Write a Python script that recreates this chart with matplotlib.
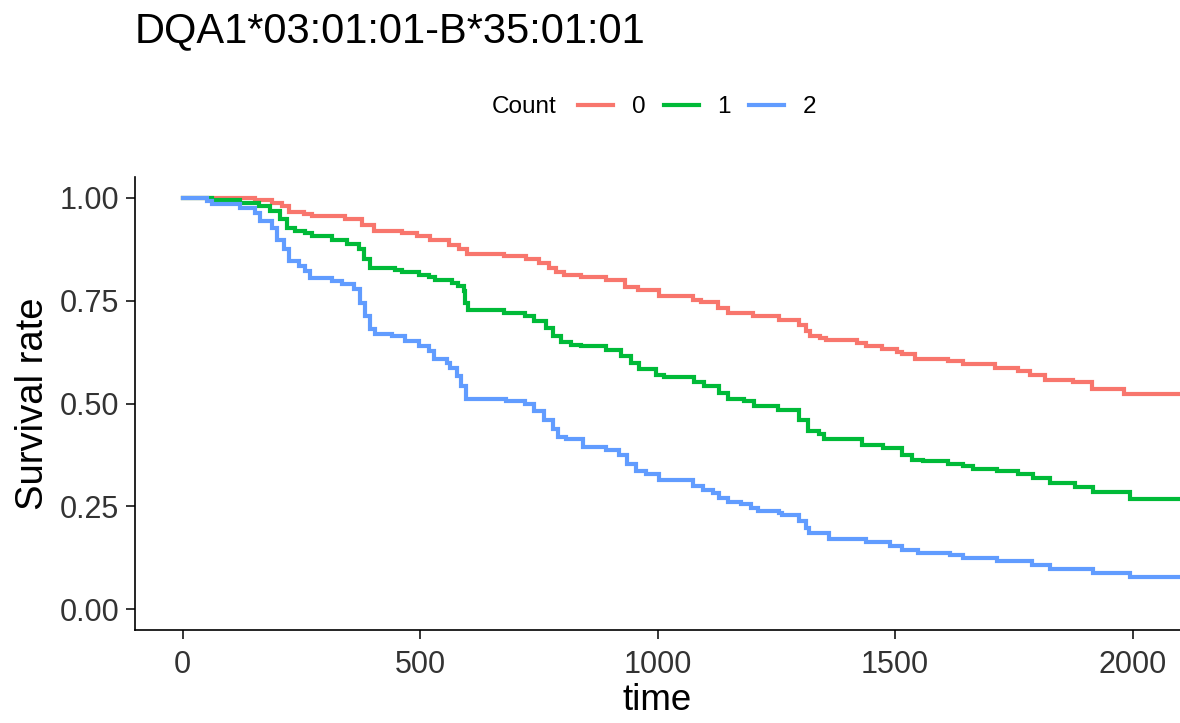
import matplotlib.pyplot as plt
from matplotlib.lines import Line2D

plt.rcParams['font.family'] = ['Liberation Sans', 'DejaVu Sans']

title = "DQA1*03:01:01-B*35:01:01"
groups = ["0", "1", "2"]
colors = ["#F8766D", "#00BA38", "#619CFF"]

# Kaplan-Meier step points (time, survival)
t0 = [0, 153, 189, 210, 225, 256, 273, 342, 378, 403, 462, 493, 520, 562, 583, 598,
      676, 724, 751, 772, 787, 804, 839, 892, 932, 959, 1003, 1074, 1091, 1127, 1148,
      1200, 1255, 1297, 1312, 1322, 1343, 1354, 1421, 1438, 1473, 1505, 1515, 1542,
      1612, 1643, 1710, 1759, 1784, 1815, 1874, 1914, 1983, 2150]
s0 = [1.0, 0.995, 0.987, 0.979, 0.964, 0.96, 0.955, 0.948, 0.934, 0.918, 0.913, 0.906,
      0.896, 0.886, 0.874, 0.862, 0.858, 0.85, 0.842, 0.83, 0.819, 0.813, 0.807, 0.801,
      0.783, 0.775, 0.76, 0.752, 0.746, 0.732, 0.72, 0.712, 0.702, 0.69, 0.676, 0.663,
      0.658, 0.653, 0.646, 0.639, 0.633, 0.626, 0.619, 0.609, 0.603, 0.595, 0.585,
      0.578, 0.568, 0.558, 0.551, 0.536, 0.522, 0.522]

t1 = [0, 63, 122, 162, 185, 206, 220, 237, 258, 273, 315, 346, 371, 382, 395, 447, 462,
      497, 518, 531, 567, 581, 592, 594, 602, 676, 720, 741, 766, 781, 797, 818, 839,
      892, 923, 944, 961, 997, 1014, 1077, 1098, 1129, 1148, 1182, 1203, 1253, 1297,
      1316, 1339, 1350, 1431, 1475, 1515, 1536, 1559, 1612, 1643, 1664, 1715, 1759,
      1790, 1826, 1878, 1916, 1994, 2150]
s1 = [1.0, 0.993, 0.987, 0.979, 0.967, 0.947, 0.926, 0.92, 0.914, 0.906, 0.896, 0.888,
      0.874, 0.85, 0.829, 0.825, 0.82, 0.813, 0.807, 0.801, 0.793, 0.785, 0.773, 0.744,
      0.728, 0.72, 0.712, 0.70, 0.684, 0.663, 0.649, 0.643, 0.639, 0.631, 0.615, 0.599,
      0.584, 0.57, 0.565, 0.552, 0.542, 0.526, 0.511, 0.506, 0.493, 0.484, 0.461, 0.433,
      0.425, 0.415, 0.40, 0.393, 0.376, 0.364, 0.36, 0.354, 0.348, 0.342, 0.336, 0.33,
      0.32, 0.307, 0.298, 0.284, 0.269, 0.269]

t2 = [0, 21, 52, 63, 120, 153, 164, 189, 199, 214, 225, 246, 258, 269, 315, 336, 361,
      374, 384, 395, 405, 441, 468, 497, 518, 529, 556, 563, 577, 586, 596, 682, 720,
      741, 762, 781, 791, 808, 844, 892, 919, 935, 955, 976, 1003, 1074, 1095, 1116,
      1129, 1148, 1175, 1196, 1211, 1255, 1263, 1297, 1312, 1318, 1360, 1438, 1490,
      1515, 1549, 1616, 1643, 1715, 1788, 1826, 1916, 1994, 2150]
s2 = [1.0, 0.998, 0.991, 0.985, 0.975, 0.963, 0.943, 0.926, 0.898, 0.874, 0.845, 0.833,
      0.821, 0.805, 0.797, 0.789, 0.777, 0.744, 0.712, 0.68, 0.669, 0.663, 0.651, 0.639,
      0.627, 0.607, 0.599, 0.587, 0.567, 0.542, 0.511, 0.507, 0.498, 0.481, 0.461,
      0.437, 0.419, 0.413, 0.395, 0.388, 0.376, 0.352, 0.336, 0.33, 0.314, 0.299,
      0.289, 0.283, 0.271, 0.26, 0.255, 0.247, 0.24, 0.235, 0.229, 0.214, 0.198, 0.186,
      0.172, 0.163, 0.154, 0.144, 0.136, 0.131, 0.125, 0.117, 0.108, 0.099, 0.089,
      0.079, 0.079]

x_ticks = [0, 500, 1000, 1500, 2000]
y_ticks = [0.0, 0.25, 0.5, 0.75, 1.0]

fig = plt.figure(figsize=(11.8, 7.23), dpi=100)
ax = fig.add_axes([135/1180, 1 - 630/723, 1 - 135/1180, (630 - 177)/723])

for t, s, c in zip([t0, t1, t2], [s0, s1, s2], colors):
    ax.step(t, s, where='post', color=c, lw=3.0, solid_joinstyle='miter')

ax.set_xlim(-100, 2100)
ax.set_ylim(-0.05, 1.05)
ax.set_xticks(x_ticks)
ax.set_yticks(y_ticks)
ax.set_yticklabels(["%.2f" % v for v in y_ticks])
ax.tick_params(labelsize=22, labelcolor='#333333', length=6.5, width=1.1)
ax.tick_params(axis='x', pad=8)
ax.tick_params(axis='y', pad=5)
for side in ['top', 'right']:
    ax.spines[side].set_visible(False)
for side in ['left', 'bottom']:
    ax.spines[side].set_linewidth(1.2)

ax.set_xlabel("time", fontsize=26.5, labelpad=2)
ax.set_ylabel("Survival rate", fontsize=27.5, labelpad=6)

fig.text(135/1180, 1 - 31/723, title, fontsize=30, ha='left', va='center')

fig.text(492/1180, 1 - 107/723, "Count", fontsize=17.5, ha='left', va='center')
handles = [Line2D([], [], color=c, lw=3.0) for c in colors]
fig.legend(handles, groups, loc='center left', bbox_to_anchor=(578/1180, 1 - 107/723),
           ncol=3, frameon=False, fontsize=17.5, handlelength=1.44,
           handletextpad=0.78, columnspacing=0.74, borderpad=0, borderaxespad=0)

fig.savefig("out.png", dpi=100)
